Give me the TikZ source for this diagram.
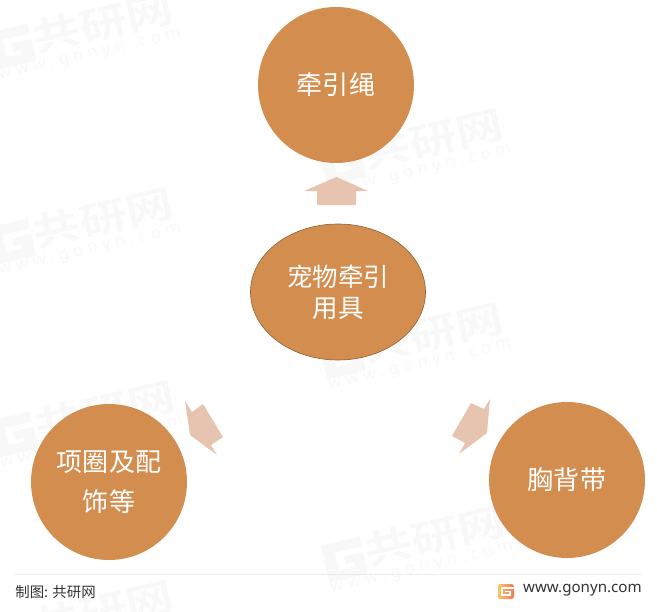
\documentclass[tikz,border=0pt]{standalone}
\usepackage{fontspec}
\usetikzlibrary{positioning,shapes.geometric}
\setmainfont{Noto Sans}
\newfontfamily\cjk{Noto Sans CJK SC}
\newfontfamily\cjkbold{Noto Sans CJK SC Bold}
\newfontfamily\webfont[LetterSpace=28]{Noto Sans}
\definecolor{bubblefill}{HTML}{D38D4F}
\definecolor{bubbleedge}{HTML}{8F6238}
\definecolor{arrowfill}{HTML}{E6C4B0}
\definecolor{markgray}{HTML}{F8F8F8}
\definecolor{footgray}{HTML}{333333}
\definecolor{logoleft}{HTML}{FBC464}
\definecolor{logoright}{HTML}{F2785F}
\tikzset{
  bubble/.style={circle,fill=bubblefill,minimum size=156*0.02cm,inner sep=0pt,text=white,align=center,font=\cjk\fontsize{14.8}{22.4}\selectfont},
  hub/.style={ellipse,draw=bubbleedge,line width=0.35pt,fill=bubblefill,minimum width=175*0.02cm,minimum height=136*0.02cm,inner sep=0pt,text=white,align=center,font=\cjk\fontsize{14.5}{17.8}\selectfont},
  blockarrow/.style={fill=arrowfill},
  marktext/.style={text=markgray,inner sep=0pt,font=\cjkbold\fontsize{27}{27}\selectfont,rotate=13,transform shape,yscale=0.8},
  markweb/.style={text=markgray,inner sep=0pt,font=\webfont\fontsize{9.5}{9.5}\selectfont,rotate=13},
  foottext/.style={text=footgray,inner sep=0pt,anchor=west},
}
\begin{document}
\begin{tikzpicture}[x=0.02cm,y=-0.02cm]
  \useasboundingbox (0,0) rectangle (657,612);
  % Watermarks
  \foreach \wx/\wy/\wn in {90/40/a,420/156/b,90/235/c,420/350/d,92/428/e,422/553/f,90/628/g}{
    \node[marktext] (mark\wn) at (\wx+13,\wy-17) {共研网};
    \node[markweb] (web\wn) at (\wx,\wy+16) {www.gonyn.com};
    \begin{scope}[shift={(\wx,\wy)},rotate=13]
      \fill[markgray] (-97,-30) -- (-57,-30) -- (-57,-20) -- (-85,-20) -- (-85,-2) -- (-69,-2) -- (-69,-6) -- (-77,-6) -- (-77,-14) -- (-57,-14) -- (-57,8) -- (-97,8) -- cycle;
    \end{scope}
  }
  % Bubbles
  \node[bubble] (leash) at (336,85) {牵引绳};
  \node[hub] (center) at (338,292) {宠物牵引\\用具};
  \node[bubble] (collar) at (109,482) {项圈及配\\饰等};
  \node[bubble] (chest) at (567,480) {胸背带};
  % Block arrows
  \fill[blockarrow] (336.5,177) -- (368,191) -- (356,191) -- (356,205) -- (317,205) -- (317,191) -- (304,191) -- cycle;
  \fill[blockarrow] (185,401) -- (192,412) -- (203,404) -- (223,437) -- (211,445) -- (217,455) -- (190,435) -- cycle;
  \fill[blockarrow] (490,399) -- (484,409) -- (471,403) -- (452,436) -- (465,443) -- (459,454) -- (487,433) -- cycle;
  % Footer
  \coordinate (footl) at (15,574);
  \coordinate (footr) at (641,574);
  \draw[black!8,line width=0.5pt] (footl) -- (footr);
  \node[foottext,font=\cjk\fontsize{8.2}{8.2}\selectfont] (source) at (15,592) {制图: 共研网};
  \node[foottext,font=\fontsize{8.6}{8.6}\selectfont,anchor=east] (site) at (642,590.5) {www.gonyn.com};
  % Logo
  \shade[left color=logoleft,right color=logoright,rounded corners=1pt] (498,584) rectangle (514,599);
  \draw[white,line width=0.8pt] (514,588) -- (502,588) -- (502,595) -- (510,595) -- (510,591.5) -- (505,591.5);
\end{tikzpicture}
\end{document}
